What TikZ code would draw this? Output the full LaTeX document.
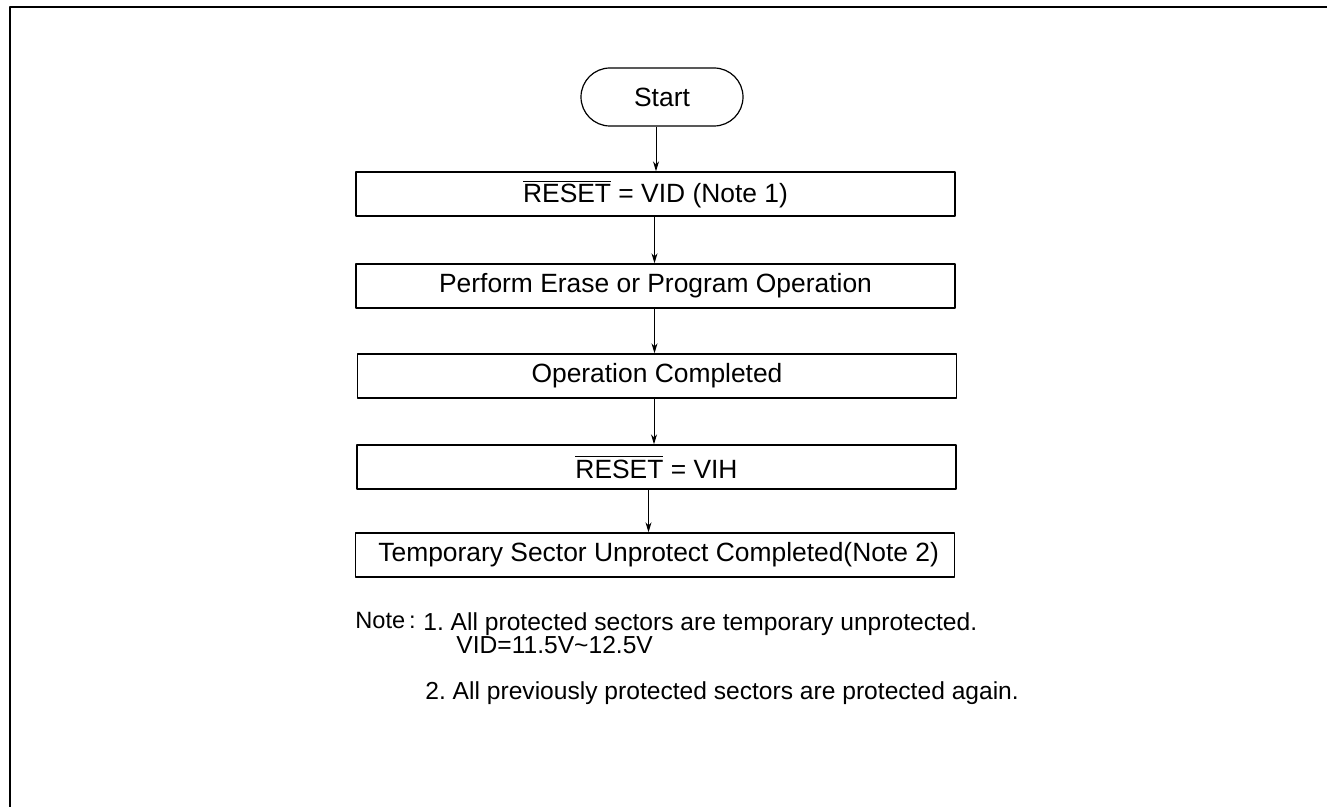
\documentclass[tikz,border=0pt]{standalone}
\usepackage{fontspec}
\setmainfont{Liberation Sans}
\usetikzlibrary{arrows.meta}
\frenchspacing
\begin{document}
\begin{tikzpicture}[x=0.5pt,y=-0.5pt,line join=round,
	font=\fontsize{13.2}{15}\selectfont,
	box/.style={draw,line width=0.7pt,minimum width=299.5pt,minimum height=22pt,inner sep=0pt},
	flow/.style={-{Stealth[length=5pt,width=3pt]},line width=0.5pt},
	notetext/.style={anchor=base west,inner sep=0pt,font=\fontsize{12.3}{14}\selectfont}]
	\def\bx{655.5} % tam cac hop
	\useasboundingbox (0,0) rectangle (1327,807);
	% khung
	\draw[line width=1pt] (10,807)--(10,7)--(1327,7);
	% cac buoc
	\node[draw,line width=0.6pt,rounded corners=14.5pt,minimum width=81pt,minimum height=29pt] (start) at (662,97) {Start};
	\node[box] (b1) at (\bx,194) {$\overline{\hbox{RESET}}$ = VID (Note 1)};
	\node[box] (b2) at (\bx,286) {Perform Erase or Program Operation};
	\node[box] (b3) at (657,376) {Operation Completed};
	\node[box] (b4) at (656.5,467) {$\overline{\hbox{RESET}}$ = VIH};
	\node[box] (b5) at (655,555) {\ Temporary Sector Unprotect Completed(Note 2)};
	% mui ten
	\draw[flow] ([xshift=-3pt]start.south)--([xshift=-3pt]start.south |- b1.north);
	\draw[flow] ([xshift=-0.5pt]b1.south)--([xshift=-0.5pt]b1.south |- b2.north);
	\draw[flow] ([xshift=-0.5pt]b2.south)--([xshift=-0.5pt]b2.south |- b3.north);
	\draw[flow] ([xshift=-1.5pt]b3.south)--([xshift=-1.5pt]b3.south |- b4.north);
	\draw[flow] ([xshift=-4pt]b4.south)--([xshift=-4pt]b4.south |- b5.north);
	% ghi chu
	\node[notetext,font=\fontsize{11.8}{14}\selectfont] (note) at (355,628) {Note\,:};
	\node[notetext] (n1) at (423,630) {1. All protected sectors are temporary unprotected.};
	\node[notetext] (n1b) at (456,653) {VID=11.5V\char`~12.5V};
	\node[notetext] (n2) at (425,699) {2. All previously protected sectors are protected again.};
\end{tikzpicture}
\end{document}
